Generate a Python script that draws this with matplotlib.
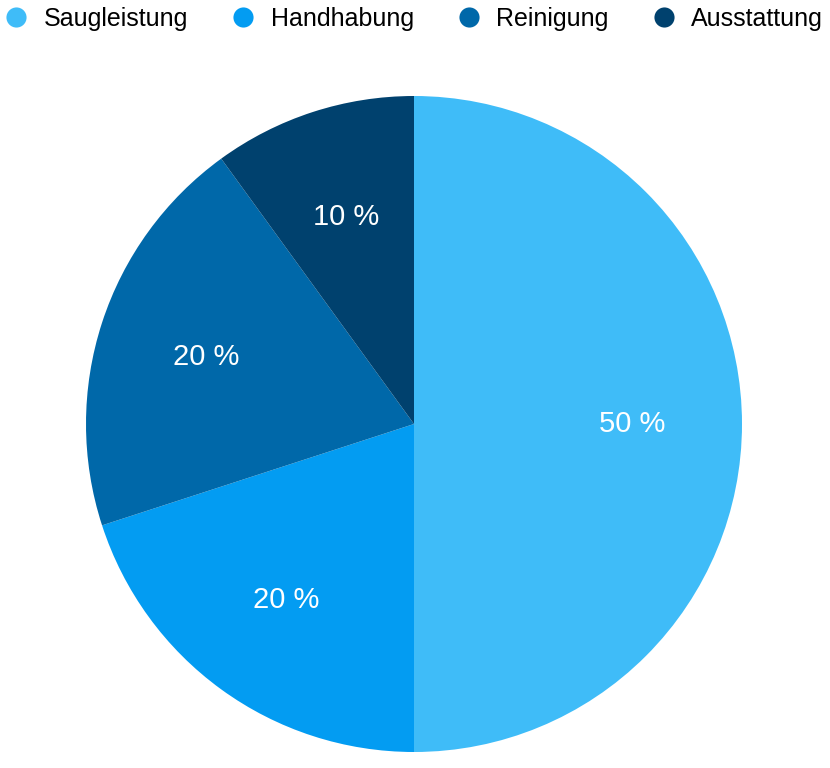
import matplotlib
matplotlib.use("Agg")
import matplotlib.pyplot as plt
from matplotlib.lines import Line2D

# ── 데이터 ─────────────────────────────────────────
categories = ["Saugleistung", "Handhabung", "Reinigung", "Ausstattung"]
shares = [50, 20, 20, 10]
colors = ["#3FBCF8", "#039CF2", "#0068A9", "#00416E"]

plt.rcParams["font.family"] = ["Liberation Sans", "DejaVu Sans"]

W, H = 830, 768
fig = plt.figure(figsize=(W / 100, H / 100), dpi=100)

# pie centre (414, 424) px, radius 328 px
cx, cy, r = 414, 424, 328
ax = fig.add_axes([(cx - r) / W, (H - cy - r) / H, 2 * r / W, 2 * r / H])
wedges, texts, autotexts = ax.pie(
    shares, colors=colors, startangle=90, counterclock=False, radius=1,
    autopct=lambda p: f"{p:.0f} %", pctdistance=0.665,
    wedgeprops={"linewidth": 0},
    textprops={"color": "white", "fontsize": 21},
)
ax.set_xlim(-1, 1)
ax.set_ylim(-1, 1)
ax.set_aspect("equal")
ax.axis("off")

handles = [Line2D([0], [0], marker="o", linestyle="none", markersize=14.5,
                  markerfacecolor=c, markeredgewidth=0) for c in colors]
fig.legend(handles, categories, loc="center", bbox_to_anchor=(414.5 / W, 1 - 19 / H),
           ncol=4, frameon=False, fontsize=18, handlelength=0.8,
           handletextpad=0.7, columnspacing=1.8, borderpad=0)

fig.savefig("out.png", dpi=100)
